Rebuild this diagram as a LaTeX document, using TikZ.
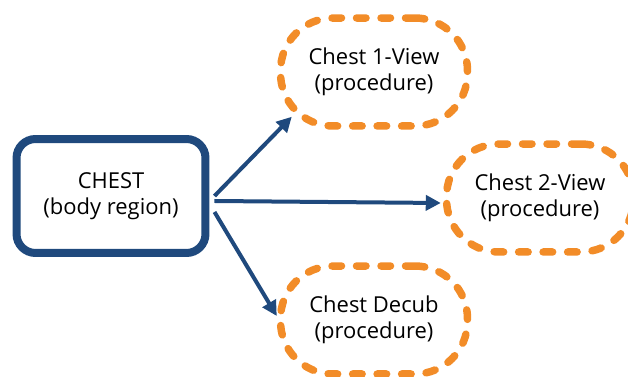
\documentclass[tikz,border=0pt]{standalone}
\usepackage{fontspec}
\setmainfont{Open Sans}
\usetikzlibrary{arrows.meta}
\definecolor{boxblue}{HTML}{1F497D}
\definecolor{dashorange}{HTML}{F28C28}

\begin{document}
\begin{tikzpicture}[x=0.02cm,y=-0.02cm,
    region/.style={draw=boxblue, line width=0.16cm, rounded corners=0.38cm,
      minimum width=3.78cm, minimum height=2.28cm, align=center,
      font=\fontsize{12.5}{14.5}\selectfont},
    proc/.style={draw=dashorange, line width=0.15cm, line cap=round,
      dash pattern=on 0.19cm off 0.30cm, rounded corners=1.05cm,
      minimum width=3.74cm, minimum height=2.16cm, align=center,
      font=\fontsize{12.5}{14.5}\selectfont},
    link/.style={draw=boxblue, line width=0.08cm,
      -{Triangle[length=0.3cm,width=0.3cm]}}]
    \useasboundingbox (0,0) rectangle (628,377);

    % Body region
    \node[region] (chest) at (111,196) {CHEST\\(body region)};

    % Procedures
    \node[proc] (view1) at (374,72) {Chest 1-View\\(procedure)};
    \node[proc] (view2) at (540,198) {Chest 2-View\\(procedure)};
    \node[proc] (decub) at (374,320) {Chest Decub\\(procedure)};

    % Links
    \draw[link] ([shift={(5,0)}]chest.east) -- ([shift={(15,-13)}]view1.south west);
    \draw[link] ([shift={(5,5)}]chest.east) -- ([shift={(-2,5)}]view2.west);
    \draw[link] ([shift={(5,16)}]chest.east) -- ([shift={(0,-4)}]decub.west);
\end{tikzpicture}
\end{document}
